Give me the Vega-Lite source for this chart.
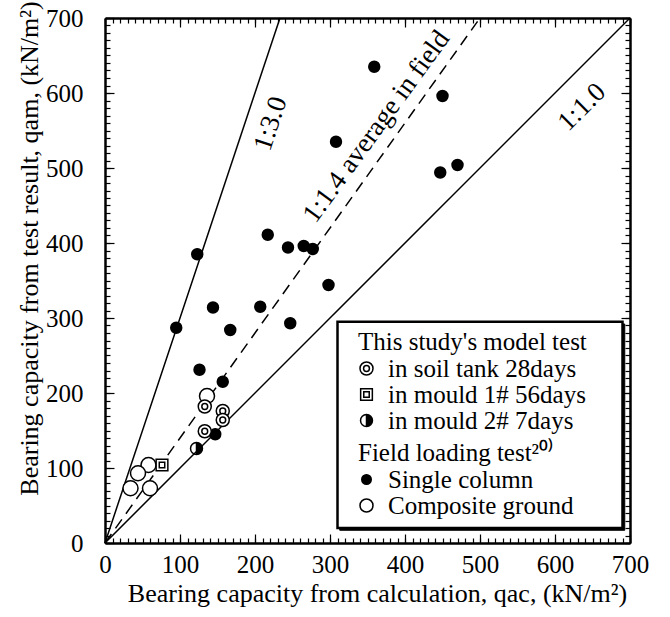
{
  "$schema": "https://vega.github.io/schema/vega-lite/v6.json",
  "width": 525,
  "height": 525,
  "autosize": {"type": "none"},
  "padding": {"left": 105, "top": 18, "right": 40, "bottom": 74},
  "background": "white",
  "config": {
    "view": {"stroke": null},
    "font": "Liberation Serif",
    "axis": {
      "grid": false,
      "domainColor": "black",
      "domainWidth": 2.5,
      "tickColor": "black",
      "tickWidth": 1.2,
      "labelColor": "black",
      "titleColor": "black",
      "labelFont": "Liberation Serif",
      "titleFont": "Liberation Serif",
      "labelFontSize": 25,
      "titleFontSize": 26,
      "titleFontWeight": "normal",
      "labelFlush": false
    },
    "legend": {
      "orient": "none",
      "labelFont": "Liberation Serif",
      "titleFont": "Liberation Serif",
      "labelFontSize": 25,
      "titleFontSize": 25,
      "titleFontWeight": "normal",
      "labelColor": "black",
      "titleColor": "black",
      "titleLimit": 400,
      "labelLimit": 400,
      "rowPadding": 0,
      "titlePadding": 1,
      "labelOffset": 9,
      "symbolOffset": -4,
      "symbolSize": 169,
      "zindex": 2
    }
  },
  "datasets": {
    "field": [
      {"x": 359, "y": 635, "type": "Single column"},
      {"x": 450, "y": 596, "type": "Single column"},
      {"x": 308, "y": 535, "type": "Single column"},
      {"x": 447, "y": 494, "type": "Single column"},
      {"x": 470, "y": 504, "type": "Single column"},
      {"x": 217, "y": 411, "type": "Single column"},
      {"x": 244, "y": 394, "type": "Single column"},
      {"x": 265, "y": 396, "type": "Single column"},
      {"x": 277, "y": 392, "type": "Single column"},
      {"x": 123, "y": 385, "type": "Single column"},
      {"x": 298, "y": 344, "type": "Single column"},
      {"x": 144, "y": 314, "type": "Single column"},
      {"x": 207, "y": 315, "type": "Single column"},
      {"x": 167, "y": 284, "type": "Single column"},
      {"x": 247, "y": 293, "type": "Single column"},
      {"x": 95, "y": 287, "type": "Single column"},
      {"x": 126, "y": 231, "type": "Single column"},
      {"x": 157, "y": 215, "type": "Single column"},
      {"x": 147, "y": 145, "type": "Single column"},
      {"x": 136, "y": 196, "type": "Composite ground"},
      {"x": 58, "y": 104, "type": "Composite ground"},
      {"x": 44, "y": 93, "type": "Composite ground"},
      {"x": 34, "y": 73, "type": "Composite ground"},
      {"x": 60, "y": 73, "type": "Composite ground"}
    ],
    "model": [
      {"x": 133, "y": 182, "type": "in soil tank 28days"},
      {"x": 157, "y": 176, "type": "in soil tank 28days"},
      {"x": 157, "y": 164, "type": "in soil tank 28days"},
      {"x": 133, "y": 149, "type": "in soil tank 28days"},
      {"x": 76, "y": 104, "type": "in mould 1# 56days"},
      {"x": 122, "y": 126, "type": "in mould 2# 7days"}
    ]
  },
  "layer": [
    {
      "data": {"values": [{}]},
      "mark": {"type": "rule", "color": "black", "strokeWidth": 1.5},
      "encoding": {
        "x": {"datum": 0, "type": "quantitative", "scale": {"domain": [0, 700], "nice": false},
          "axis": {"orient": "top", "values": [0, 100, 200, 300, 400, 500, 600, 700], "tickSize": -9, "labels": false, "title": null}},
        "y": {"datum": 0, "type": "quantitative", "scale": {"domain": [0, 700], "nice": false},
          "axis": {"orient": "right", "values": [0, 100, 200, 300, 400, 500, 600, 700], "tickSize": -9, "labels": false, "title": null}},
        "x2": {"datum": 233.33},
        "y2": {"datum": 700}
      }
    },
    {
      "data": {"values": [{}]},
      "mark": {"type": "rule", "color": "black", "strokeWidth": 1.5},
      "encoding": {
        "x": {"datum": 0, "type": "quantitative", "scale": {"domain": [0, 700], "nice": false},
          "axis": {"orient": "top", "values": [0,10,20,30,40,50,60,70,80,90,100,110,120,130,140,150,160,170,180,190,200,210,220,230,240,250,260,270,280,290,300,310,320,330,340,350,360,370,380,390,400,410,420,430,440,450,460,470,480,490,500,510,520,530,540,550,560,570,580,590,600,610,620,630,640,650,660,670,680,690,700], "tickSize": -5, "labels": false, "domain": false, "title": null}},
        "y": {"datum": 0, "type": "quantitative", "scale": {"domain": [0, 700], "nice": false},
          "axis": {"orient": "right", "values": [0,10,20,30,40,50,60,70,80,90,100,110,120,130,140,150,160,170,180,190,200,210,220,230,240,250,260,270,280,290,300,310,320,330,340,350,360,370,380,390,400,410,420,430,440,450,460,470,480,490,500,510,520,530,540,550,560,570,580,590,600,610,620,630,640,650,660,670,680,690,700], "tickSize": -5, "labels": false, "domain": false, "title": null}},
        "x2": {"datum": 700},
        "y2": {"datum": 700}
      }
    },
    {
      "data": {"values": [{}]},
      "mark": {"type": "rule", "color": "black", "strokeWidth": 1.5, "strokeDash": [11, 7]},
      "encoding": {
        "x": {"datum": 0, "type": "quantitative", "scale": {"domain": [0, 700], "nice": false},
          "axis": {"orient": "bottom", "values": [0, 100, 200, 300, 400, 500, 600, 700], "ticks": false, "domain": false, "labelPadding": 9,
            "title": "Bearing capacity from calculation, qac, (kN/m²)", "titleX": 272, "titleY": 50, "titleBaseline": "middle", "titleAlign": "center"}},
        "y": {"datum": 0, "type": "quantitative", "scale": {"domain": [0, 700], "nice": false},
          "axis": {"orient": "left", "values": [0, 100, 200, 300, 400, 500, 600, 700], "ticks": false, "domain": false, "labelPadding": 22,
            "title": "Bearing capacity from test result, qam, (kN/m²)", "titleX": -76, "titleY": 230, "titleBaseline": "middle", "titleAlign": "center", "titleAngle": -90}},
        "x2": {"datum": 500},
        "y2": {"datum": 700}
      }
    },
    {
      "data": {"values": [{}]},
      "mark": {"type": "rect", "fill": "black", "stroke": "black", "strokeWidth": 1},
      "encoding": {
        "x": {"datum": 313, "type": "quantitative", "scale": {"domain": [0, 700], "nice": false}, "axis": null},
        "x2": {"datum": 693},
        "y": {"datum": 17, "type": "quantitative", "scale": {"domain": [0, 700], "nice": false}, "axis": null},
        "y2": {"datum": 292}
      }
    },
    {
      "data": {"values": [{}]},
      "mark": {"type": "rect", "fill": "white", "stroke": "black", "strokeWidth": 2.5},
      "encoding": {
        "x": {"datum": 310, "type": "quantitative", "scale": {"domain": [0, 700], "nice": false}, "axis": null},
        "x2": {"datum": 690},
        "y": {"datum": 20, "type": "quantitative", "scale": {"domain": [0, 700], "nice": false}, "axis": null},
        "y2": {"datum": 295}
      }
    },
    {
      "data": {"name": "field"},
      "mark": {"type": "point", "filled": true, "stroke": "black", "strokeWidth": 1.5, "opacity": 1, "size": 225},
      "encoding": {
        "x": {"field": "x", "type": "quantitative", "scale": {"domain": [0, 700], "nice": false},
          "axis": {"orient": "bottom", "values": [0,10,20,30,40,50,60,70,80,90,100,110,120,130,140,150,160,170,180,190,200,210,220,230,240,250,260,270,280,290,300,310,320,330,340,350,360,370,380,390,400,410,420,430,440,450,460,470,480,490,500,510,520,530,540,550,560,570,580,590,600,610,620,630,640,650,660,670,680,690,700], "tickSize": -5, "labels": false, "domain": false, "title": null}},
        "y": {"field": "y", "type": "quantitative", "scale": {"domain": [0, 700], "nice": false},
          "axis": {"orient": "left", "values": [0,10,20,30,40,50,60,70,80,90,100,110,120,130,140,150,160,170,180,190,200,210,220,230,240,250,260,270,280,290,300,310,320,330,340,350,360,370,380,390,400,410,420,430,440,450,460,470,480,490,500,510,520,530,540,550,560,570,580,590,600,610,620,630,640,650,660,670,680,690,700], "tickSize": -5, "labels": false, "domain": false, "title": null}},
        "shape": {"field": "type", "type": "nominal", "title": "Field loading test²⁰⁾",
          "scale": {"domain": ["Single column", "Composite ground"],
            "range": ["M-0.73,0A0.73,0.73 0 1,1 0.73,0A0.73,0.73 0 1,1 -0.73,0Z", "M-1,0A1,1 0 1,1 1,0A1,1 0 1,1 -1,0Z"]},
          "legend": {"legendX": 253, "legendY": 423, "symbolSize": 169,
            "encode": {"symbols": {"update": {"stroke": {"value": "black"}, "strokeWidth": {"value": 1.5}}}}}},
        "fill": {"field": "type", "type": "nominal", "title": "Field loading test²⁰⁾",
          "scale": {"domain": ["Single column", "Composite ground"], "range": ["black", "white"]},
          "legend": {"legendX": 253, "legendY": 423, "symbolSize": 169,
            "encode": {"symbols": {"update": {"stroke": {"value": "black"}, "strokeWidth": {"value": 1.5}}}}}}
      }
    },
    {
      "data": {"name": "model"},
      "mark": {"type": "point", "filled": true, "stroke": "black", "strokeWidth": 1.5, "opacity": 1, "size": 169},
      "encoding": {
        "x": {"field": "x", "type": "quantitative", "scale": {"domain": [0, 700], "nice": false},
          "axis": {"orient": "bottom", "values": [0, 100, 200, 300, 400, 500, 600, 700], "tickSize": -9, "labels": false, "title": null}},
        "y": {"field": "y", "type": "quantitative", "scale": {"domain": [0, 700], "nice": false},
          "axis": {"orient": "left", "values": [0, 100, 200, 300, 400, 500, 600, 700], "tickSize": -9, "labels": false, "title": null}},
        "shape": {"field": "type", "type": "nominal", "title": "This study's model test",
          "scale": {"domain": ["in soil tank 28days", "in mould 1# 56days", "in mould 2# 7days"],
            "range": [
              "M-1,0A1,1 0 1,1 1,0A1,1 0 1,1 -1,0Z M-0.45,0A0.45,0.45 0 1,1 0.45,0A0.45,0.45 0 1,1 -0.45,0Z",
              "M-0.9,-0.9H0.9V0.9H-0.9Z M-0.42,-0.42H0.42V0.42H-0.42Z",
              "M0,-0.92A0.92,0.92 0 0,1 0,0.92Z M0,0.92A0.92,0.92 0 0,1 0,-0.92A0.92,0.92 0 0,0 0,0.92"
            ]},
          "legend": {"legendX": 253, "legendY": 312, "symbolSize": 169,
            "encode": {"symbols": {"update": {"stroke": {"value": "black"}, "strokeWidth": {"value": 1.5}}}}}},
        "fill": {"field": "type", "type": "nominal", "title": "This study's model test",
          "scale": {"domain": ["in soil tank 28days", "in mould 1# 56days", "in mould 2# 7days"], "range": ["white", "white", "black"]},
          "legend": {"legendX": 253, "legendY": 312, "symbolSize": 169,
            "encode": {"symbols": {"update": {"stroke": {"value": "black"}, "strokeWidth": {"value": 1.5}}}}}}
      }
    },
    {
      "data": {"values": [{}]},
      "mark": {"type": "text", "text": "1:3.0", "angle": -71.6, "fontSize": 27, "font": "Liberation Serif", "align": "center", "baseline": "middle", "color": "black"},
      "encoding": {
        "x": {"datum": 221, "type": "quantitative", "scale": {"domain": [0, 700], "nice": false}, "axis": null},
        "y": {"datum": 559, "type": "quantitative", "scale": {"domain": [0, 700], "nice": false}, "axis": null}
      }
    },
    {
      "data": {"values": [{}]},
      "mark": {"type": "text", "text": "1:1.4 average in field", "angle": -54, "fontSize": 27, "font": "Liberation Serif", "align": "center", "baseline": "middle", "color": "black"},
      "encoding": {
        "x": {"datum": 362, "type": "quantitative", "scale": {"domain": [0, 700], "nice": false}, "axis": null},
        "y": {"datum": 555, "type": "quantitative", "scale": {"domain": [0, 700], "nice": false}, "axis": null}
      }
    },
    {
      "data": {"values": [{}]},
      "mark": {"type": "text", "text": "1:1.0", "angle": -45, "fontSize": 27, "font": "Liberation Serif", "align": "center", "baseline": "middle", "color": "black"},
      "encoding": {
        "x": {"datum": 636, "type": "quantitative", "scale": {"domain": [0, 700], "nice": false}, "axis": null},
        "y": {"datum": 581, "type": "quantitative", "scale": {"domain": [0, 700], "nice": false}, "axis": null}
      }
    }
  ],
  "resolve": {
    "scale": {"shape": "independent", "fill": "independent"},
    "axis": {"x": "independent", "y": "independent"}
  }
}
